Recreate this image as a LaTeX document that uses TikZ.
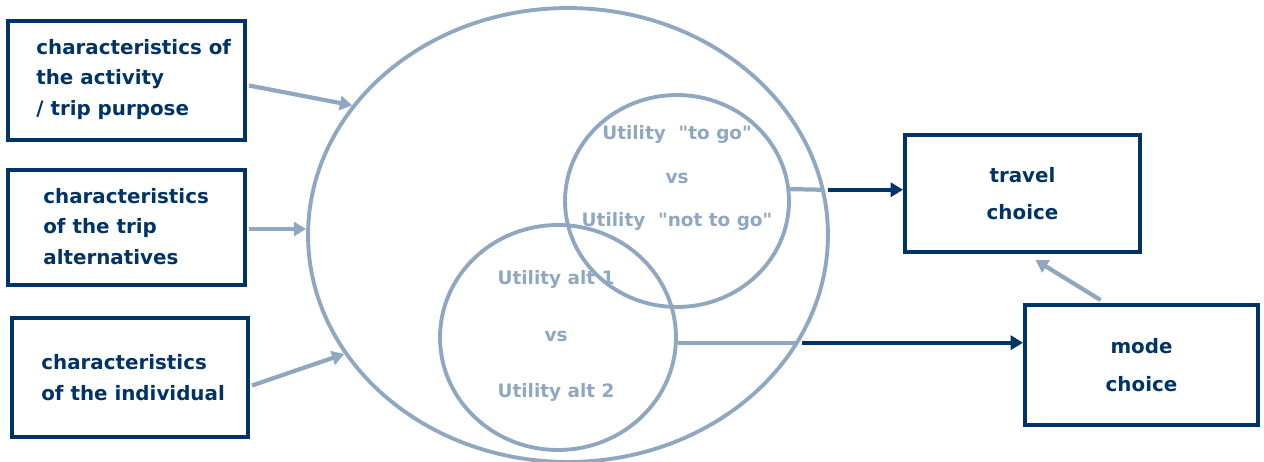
\documentclass[tikz,border=0pt]{standalone}
\usepackage{fontspec}
\setmainfont{DejaVu Sans}[Ligatures=TeXOff]
\usetikzlibrary{shapes.geometric,arrows.meta,calc}
\definecolor{navy}{RGB}{0,51,102}
\definecolor{haze}{RGB}{143,167,192}
\begin{document}
\begin{tikzpicture}[x=0.02cm,y=-0.02cm,
  factorbox/.style={draw=navy,line width=2.3pt,rectangle,inner sep=0pt},
  factortext/.style={anchor=west,inner sep=0pt,text=navy,
    font=\bfseries\fontsize{11.3}{17.5}\selectfont,align=left},
  choicebox/.style={draw=navy,line width=2.3pt,rectangle,inner sep=0pt,
    text=navy,font=\bfseries\fontsize{11.3}{21.5}\selectfont,align=center},
  ring/.style={draw=haze,line width=2.2pt,ellipse,inner sep=0pt},
  ringtext/.style={text=haze,align=center},
  feed/.style={draw=haze,line width=2.4pt,-{Triangle[length=7pt,width=8pt]}},
  link/.style={draw=haze,line width=2.4pt},
  result/.style={draw=navy,line width=2.1pt,-{Triangle[length=7pt,width=8pt]}}]
\useasboundingbox (0,0) rectangle (1264,462);

% influencing factors
\node[factorbox,minimum width=4.74cm,minimum height=2.38cm] (act) at (126.5,80.5) {};
\node[factortext] (actT) at ($(act.west)+(30,-1)$) {characteristics of\\the activity\\/ trip purpose};
\node[factorbox,minimum width=4.74cm,minimum height=2.30cm] (alt) at (126.5,227.5) {};
\node[factortext] (altT) at ($(alt.west)+(37,-1)$) {characteristics\\of the trip\\alternatives};
\node[factorbox,minimum width=4.72cm,minimum height=2.38cm] (ind) at (130,377.5) {};
\node[factortext] (indT) at ($(ind.west)+(31,0)$) {characteristics\\of the individual};

% choices
\node[choicebox,minimum width=4.70cm,minimum height=2.34cm] (travel) at (1022.5,193.5) {travel\\choice};
\node[choicebox,minimum width=4.66cm,minimum height=2.40cm] (mode) at (1141.5,365) {mode\\choice};

% utility comparison
\node[ring,minimum width=10.4cm,minimum height=9.08cm] (big) at (568,235) {};
\node[ring,minimum width=4.48cm,minimum height=4.24cm] (go) at (677,201) {};
\node[ring,minimum width=4.72cm,minimum height=4.50cm] (md) at (558,337.5) {};

\node[ringtext,font=\bfseries\fontsize{10.5}{25}\selectfont] (gotxt) at (677,178)
  {Utility\ \ "to go"\\vs\\Utility\ \ "not to go"};
\node[ringtext,font=\bfseries\fontsize{10.5}{32.3}\selectfont] (mdtxt) at (556,336)
  {Utility alt 1\\vs\\Utility alt 2};

% inputs
\draw[feed] ($(act.east)+(2,5)$) -- (big.149);
\coordinate (altout) at ($(alt.east)+(2,1.5)$);
\draw[feed] (altout) -- (altout -| big.west);
\draw[feed] ($(ind.east)+(2,8)$) -- (big.208.6);

% outputs
\coordinate (gox) at (big.10);
\coordinate (mdx) at (big.335.5);
\draw[link] (go.6) -- ($(gox)+(-3,0)$);
\draw[result] ($(gox)+(3,0)$) -- (gox -| travel.west);
\draw[link] (md.east |- mdx) -- ($(mdx)+(-3,0)$);
\draw[result] ($(mdx)+(3,0)$) -- (mdx -| mode.west);
\draw[feed] ($(mode.north)+(-41,-3)$) -- ($(travel.south)+(13,6)$);
\end{tikzpicture}
\end{document}
